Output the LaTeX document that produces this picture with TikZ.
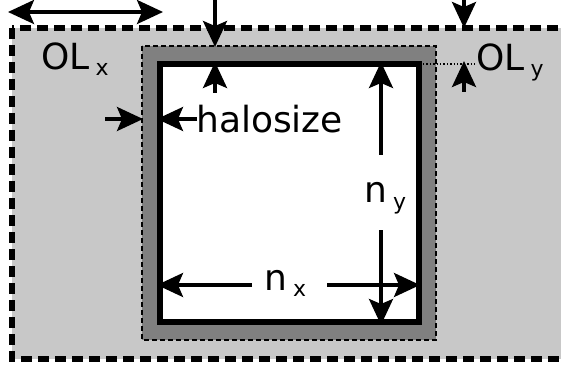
\documentclass[tikz,border=0pt]{standalone}
\usepackage{fontspec}
\setmainfont{DejaVu Sans}
\usetikzlibrary{arrows.meta}
\definecolor{olgray}{RGB}{200,200,200}
\definecolor{halogray}{RGB}{128,128,128}
\newcommand{\sublab}[2]{#1\hspace{6pt}\raisebox{-6pt}{\fontsize{22}{22}\selectfont #2}}

\begin{document}
\begin{tikzpicture}[x=1pt, y=-1pt,
  dimarrow/.style={-{Stealth[length=26pt,width=24pt,inset=5pt]}, line width=3.4pt},
  biarrow/.style={{Stealth[length=26pt,width=24pt,inset=5pt]}-{Stealth[length=26pt,width=24pt,inset=5pt]}, line width=3.4pt},
  lbl/.style={font=\fontsize{36}{40}\selectfont, inner sep=0pt, anchor=base west}]
  \useasboundingbox (0,0) rectangle (561,371);
  \clip (0,0) rectangle (561,371);

  %--- Regions: overlap, halo, interior ---
  \draw[fill=olgray, line width=5.5pt, dash pattern=on 11pt off 6pt] (12,28) rectangle (600,359);
  \draw[fill=halogray, line width=2.6pt, dash pattern=on 5pt off 3pt] (142,46) rectangle (436,340);
  \draw[fill=white, line width=6.5pt] (160,64) rectangle (419,322);

  %--- Labels ---
  \node[lbl] (olx) at (41,70) {\sublab{OL}{x}};
  \node[lbl] (oly) at (476,71) {\sublab{OL}{y}};
  \node[lbl] (halo) at (196,133) {halosize};
  \node[lbl] (nx) at (264,290) {\sublab{n}{x}};
  \node[lbl] (ny) at (364,203) {\sublab{n}{y}};

  % OL_x
  \coordinate (olxL) at (8,12);
  \coordinate (olxR) at (163,12);
  \draw[biarrow] (olxL) -- (olxR);

  % top of halo
  \coordinate (haloTin) at (215,0);
  \coordinate (haloT) at (215,47);
  \coordinate (innerTin) at (215,93);
  \coordinate (innerT) at (215,62);
  \draw[dimarrow] (haloTin) -- (haloT);
  \draw[dimarrow] (innerTin) -- (innerT);

  % OL_y
  \coordinate (olyTin) at (464,0);
  \coordinate (olyT) at (464,28);
  \coordinate (olyBin) at (464,92);
  \coordinate (olyB) at (464,61);
  \draw[dimarrow] (olyTin) -- (olyT);
  \draw[dimarrow] (olyBin) -- (olyB);
  \coordinate (innerNE) at (423,64);
  \coordinate (olyDot) at (476,64);
  \draw[line width=1.4pt, dotted] (innerNE) -- (olyDot);

  % halosize
  \coordinate (haloLin) at (105,119);
  \coordinate (haloL) at (143,119);
  \coordinate (innerLin) at (197,119);
  \coordinate (innerL) at (157,119);
  \draw[dimarrow] (haloLin) -- (haloL);
  \draw[dimarrow] (innerLin) -- (innerL);

  % n_x
  \coordinate (nxA) at (252,285);
  \coordinate (nxL) at (157,285);
  \coordinate (nxB) at (327,285);
  \coordinate (nxR) at (420,285);
  \draw[dimarrow] (nxA) -- (nxL);
  \draw[dimarrow] (nxB) -- (nxR);

  % n_y
  \coordinate (nyA) at (381,155);
  \coordinate (nyT) at (381,62);
  \coordinate (nyB) at (381,230);
  \coordinate (nyD) at (381,325);
  \draw[dimarrow] (nyA) -- (nyT);
  \draw[dimarrow] (nyB) -- (nyD);
\end{tikzpicture}
\end{document}
